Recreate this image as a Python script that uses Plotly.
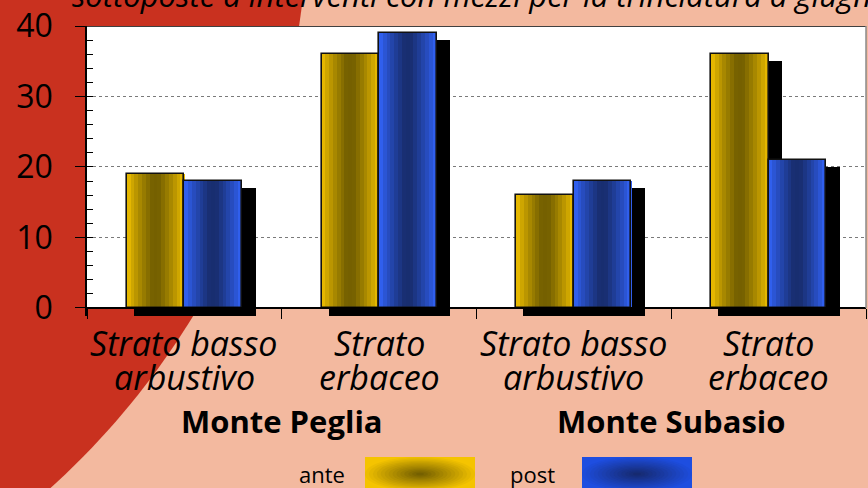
import math
import plotly.graph_objects as go

# ---------------- data ----------------
categories = ["Strato basso<br>arbustivo", "Strato<br>erbaceo",
              "Strato basso<br>arbustivo", "Strato<br>erbaceo"]
groups = ["Monte Peglia", "Monte Subasio"]
ante = [19, 36, 16, 36]
post = [18, 39, 18, 21]
series_names = ["ante", "post"]
y_ticks = [0, 10, 20, 30, 40]
title_text = "sottoposte a interventi con mezzi per la trinciatura a giugno"

# ---------------- geometry helpers ----------------
W, H = 868, 488
L, R, T, B = 87, 2, 26, 172
PW, PH = W - L - R, H - T - B
YMIN, YMAX = -1.15, 40


def xp(px):
    return (px - L) / PW


def yp(py):
    return (H - B - py) / PH


def lerp(c1, c2, t):
    return "rgb(%d,%d,%d)" % tuple(round(a + (b - a) * t) for a, b in zip(c1, c2))


FONT = "Open Sans"
centers = [i + 0.5 for i in range(len(categories))]
bw = 0.2953          # bar width in category units
K = 15               # stripes per bar
palette = {
    "ante": ((245, 196, 0), (117, 96, 0)),
    "post": ((51, 102, 255), (24, 46, 112)),
}

fig = go.Figure()

# shadows
sh_w = bw * 1.115
sh_dx = 0.053
for vals, off in ((ante, -bw / 2), (post, bw / 2)):
    fig.add_trace(go.Bar(
        x=[c + off + sh_dx for c in centers],
        y=[v - 1 + 1.1 for v in vals], base=-1.1,
        width=sh_w, marker=dict(color="black", line=dict(width=0)),
        showlegend=False, hoverinfo="skip"))

# gradient stripes
for name, vals, off in (("ante", ante, -bw / 2), ("post", post, bw / 2)):
    edge, mid = palette[name]
    for k in range(K):
        u = (k + 0.5) / K
        d = 1 - abs(2 * u - 1)
        t = min(1.0, d ** 0.8 * 1.1)
        fig.add_trace(go.Bar(
            x=[c + off - bw / 2 + (k + 0.5) * bw / K for c in centers],
            y=vals, width=bw / K * 1.08,
            marker=dict(color=lerp(edge, mid, t), line=dict(width=0)),
            showlegend=False, hoverinfo="skip"))
    # outline
    fig.add_trace(go.Bar(
        x=[c + off for c in centers], y=vals, width=bw,
        marker=dict(color="rgba(0,0,0,0)", line=dict(color="#111", width=1.6)),
        name=name, showlegend=False))

# invisible trace for minor-tick axis
fig.add_trace(go.Scatter(x=[0], y=[0], yaxis="y2", mode="markers",
                         marker=dict(opacity=0), showlegend=False, hoverinfo="skip"))

shapes = []
# red curved background region (circle arc, as path in paper coords)
cx, cy, r = -474, -92, 782
pts = []
for i in range(0, 61):
    py = -20 + i * (530 / 60)
    px = cx + math.sqrt(r * r - (py - cy) ** 2)
    pts.append((xp(px), yp(py)))
path = "M %.5f,%.5f " % (xp(-20), yp(-20))
for (a, b) in pts:
    path += "L %.5f,%.5f " % (a, b)
path += "L %.5f,%.5f Z" % (xp(-20), yp(510))
shapes.append(dict(type="path", xref="paper", yref="paper", layer="below",
                   path=path, fillcolor="#C9311F", line=dict(width=0)))
# white plot area
shapes.append(dict(type="rect", xref="x", yref="y", layer="below",
                   x0=0, x1=4, y0=0, y1=40, fillcolor="white", line=dict(width=0)))
# frame top / right
shapes.append(dict(type="line", xref="paper", yref="y", x0=0, x1=1, y0=40, y1=40,
                   line=dict(color="black", width=1.5)))
shapes.append(dict(type="line", xref="paper", yref="y", x0=1, x1=1, y0=0, y1=40,
                   line=dict(color="#8a8a8a", width=1.5)))

# legend swatches (radial-ish gradient by stacked ellipses)
for name, x0, x1 in (("ante", 365, 475), ("post", 582, 692)):
    edge, mid = palette[name]
    if name == "post":
        edge = (30, 78, 224)
        mid = (22, 42, 112)
    y0, y1 = 457, 494
    shapes.append(dict(type="rect", xref="paper", yref="paper", layer="above",
                       x0=xp(x0), x1=xp(x1), y0=yp(y1), y1=yp(y0),
                       fillcolor=lerp(edge, mid, 0), line=dict(width=0)))
    mx, my = (x0 + x1) / 2, 474
    N = 14
    for i in range(N):
        s = 1 - i / N
        rx, ry = 55 * s, 17 * s
        shapes.append(dict(type="circle", xref="paper", yref="paper", layer="above",
                           x0=xp(mx - rx), x1=xp(mx + rx), y0=yp(my + ry), y1=yp(my - ry),
                           fillcolor=lerp(edge, mid, (i + 1) / N), line=dict(width=0)))

annotations = []
# category labels (two lines each)
for c, lab in zip(centers, categories):
    for j, line in enumerate(lab.split("<br>")):
        annotations.append(dict(x=c, xref="x", y=yp(343 + 34 * j), yref="paper",
                                text="<i>%s</i>" % line, showarrow=False,
                                xanchor="center", yanchor="middle",
                                font=dict(family=FONT, size=34, color="black")))
# group labels
for gi, g in enumerate(groups):
    gx = (centers[2 * gi] + centers[2 * gi + 1]) / 2
    annotations.append(dict(x=gx, xref="x", y=yp(421), yref="paper",
                            text="<b>%s</b>" % g, showarrow=False,
                            xanchor="center", yanchor="middle",
                            font=dict(family=FONT, size=31, color="black")))
# legend texts
for name, px in (("ante", 322), ("post", 532)):
    annotations.append(dict(x=xp(px), xref="paper", y=yp(474), yref="paper",
                            text=name, showarrow=False, xanchor="center", yanchor="middle",
                            font=dict(family=FONT, size=22, color="black")))
# title (cut off at top)
annotations.append(dict(x=xp(70), xref="paper", y=yp(-5), yref="paper",
                        text="<i>%s</i>" % title_text, showarrow=False,
                        xanchor="left", yanchor="middle",
                        font=dict(family=FONT, size=31, color="black")))

fig.update_layout(
    width=W, height=H, margin=dict(l=L, r=R, t=T, b=B, pad=0),
    paper_bgcolor="#F3B99F", plot_bgcolor="rgba(0,0,0,0)",
    barmode="overlay", bargap=0, showlegend=False,
    shapes=shapes, annotations=annotations,
    xaxis=dict(range=[0, 4], anchor="free", position=yp(308), showgrid=False,
               zeroline=False, showline=True, linecolor="black", linewidth=1.5,
               ticks="outside", ticklen=10, tickcolor="black", tickwidth=1,
               tickvals=[0, 1, 2, 3, 4], showticklabels=False, fixedrange=True),
    yaxis=dict(range=[YMIN, YMAX], tickvals=y_ticks, showgrid=True,
               gridcolor="#7a7a7a", griddash="dot", gridwidth=1, zeroline=False,
               showline=True, linecolor="black", linewidth=1.5,
               ticks="outside", ticklen=10, tickcolor="black", tickwidth=1,
               ticklabelstandoff=16,
               tickfont=dict(family=FONT, size=32, color="black"), fixedrange=True),
    yaxis2=dict(range=[YMIN, YMAX], overlaying="y", side="left",
                tickvals=list(range(0, 41, 2)), ticks="inside", ticklen=6,
                tickcolor="black", tickwidth=1, showticklabels=False,
                showgrid=False, zeroline=False, showline=False, fixedrange=True),
)

fig.write_html("out.html", config={"displayModeBar": False},
               post_script="document.body.style.margin='0';")
